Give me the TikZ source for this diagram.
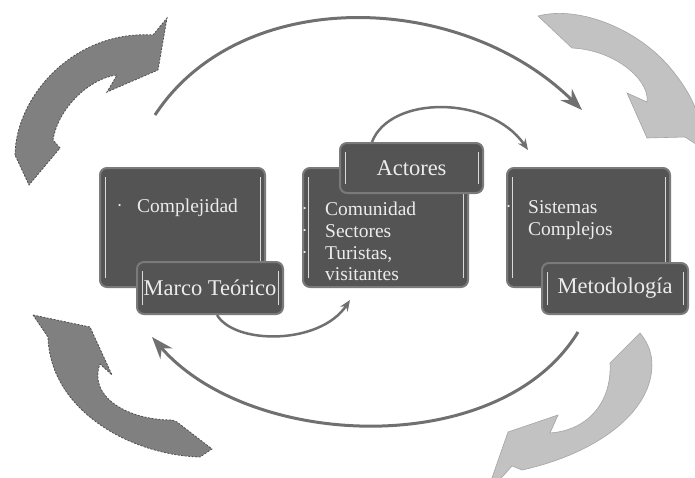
\documentclass[tikz,border=0pt]{standalone}
\usepackage{fontspec}
\setmainfont{Liberation Serif}
\usepackage{tikz}
\usetikzlibrary{arrows.meta}
\definecolor{boxgray}{RGB}{84,84,84}
\definecolor{edgegray}{RGB}{122,122,122}
\definecolor{arcgray}{RGB}{112,112,112}
\definecolor{darkfill}{RGB}{128,128,128}
\definecolor{darkedge}{RGB}{78,78,78}
\definecolor{lightfill}{RGB}{194,194,194}
\definecolor{lightedge}{RGB}{165,165,165}
\definecolor{txtgray}{RGB}{236,236,236}
\newcommand{\pnt}{\raisebox{0.35ex}{\fontsize{9}{9}\selectfont\textbullet}}

\begin{document}
\begin{tikzpicture}[x=1pt,y=-1pt,
  bigarc/.style={arcgray,line width=3pt,-{Stealth[length=22pt,width=16pt]}},
  smallarc/.style={arcgray,line width=2.5pt,-{Stealth[length=11pt,width=9pt]}},
  darkarrow/.style={fill=darkfill,draw=darkedge,dash pattern=on 2pt off 1.5pt,line width=0.8pt},
  lightarrow/.style={fill=lightfill,draw=lightedge,line width=0.6pt},
  mainbox/.style={draw=edgegray,line width=2pt,fill=boxgray,rounded corners=7pt,inner sep=0pt,
    path picture={
      \draw[white!70!gray,line width=1pt]
        ([xshift=5pt,yshift=-9pt]path picture bounding box.north west) --
        ([xshift=5pt,yshift=9pt]path picture bounding box.south west);
      \draw[white!70!gray,line width=1pt]
        ([xshift=-5pt,yshift=-9pt]path picture bounding box.north east) --
        ([xshift=-5pt,yshift=9pt]path picture bounding box.south east);}},
  lblbox/.style={mainbox,text=txtgray,font=\fontsize{22.5}{26}\selectfont},
  itemtext/.style={anchor=base west,text=txtgray,font=\fontsize{19.5}{22}\selectfont,inner sep=0pt}]

\useasboundingbox (0,0) rectangle (695,477);
\clip (0,0) rectangle (695,477);

% block arrows round the cycle
\draw[darkarrow] (15,155) .. controls (16,95) and (75,30) .. (153,35) -- (167,18) -- (158,70)
  -- (107,92) -- (117,75) .. controls (90,78) and (58,108) .. (53,140) -- (60,148) -- (29,185) -- cycle;
\draw[darkarrow] (33,315) -- (90,327) -- (112,375) -- (100,364) .. controls (88,395) and (125,420) .. (172,420)
  -- (177,422) -- (212,449) -- (200,457) .. controls (130,455) and (50,410) .. (48,337) -- cycle;
\draw[lightarrow] (538,16) .. controls (580,5) and (640,30) .. (672,70) .. controls (690,92) and (697,110) .. (698,118)
  -- (715,112) -- (708,152) -- (685,137) -- (647,138) -- (627,93) -- (647,102)
  .. controls (650,80) and (615,50) .. (572,48) -- cycle;
\draw[lightarrow] (640,333) -- (610,363) .. controls (612,400) and (590,430) .. (550,433) -- (558,415) -- (508,432)
  -- (486,495) -- (512,466) -- (522,470) .. controls (590,455) and (640,420) .. (650,380)
  .. controls (655,360) and (650,345) .. (640,333) -- cycle;

% boxes
\node[mainbox,minimum width=165pt,minimum height=119pt] (mt) at (182.5,227.5) {};
\node[lblbox,minimum width=146pt,minimum height=52pt] (mtl) at (210,288) {Marco Teórico};
\node[mainbox,minimum width=165pt,minimum height=119pt] (act) at (385.5,227.5) {};
\node[lblbox,minimum width=143pt,minimum height=50pt] (actl) at (411.5,168) {Actores};
\node[mainbox,minimum width=163pt,minimum height=119pt] (met) at (588.5,227.5) {};
\node[lblbox,minimum width=146pt,minimum height=51pt] (metl) at (615,288.5) {Metodología};

% thin arcs
\coordinate (topS) at (155,115);
\coordinate (topE) at (582,110);
\coordinate (actE) at (528,150);
\coordinate (mtE) at (350,300);
\coordinate (botS) at (578,332);
\coordinate (botE) at (152,337);
\draw[bigarc] (topS) .. controls (240,-15) and (460,-10) .. (topE);
\draw[bigarc] (botS) .. controls (500,460) and (250,450) .. (botE);
\draw[smallarc] ([xshift=33pt]actl.north west) .. controls (390,95) and (490,95) .. (actE);
\draw[smallarc] ([xshift=81pt]mtl.south west) .. controls (235,345) and (320,345) .. (mtE);

% items
\node[itemtext] (mtb) at (118,212) {\pnt};
\node[itemtext] (mt1) at (137,212) {Complejidad};
\foreach \y/\t in {215/Comunidad,237/Sectores,259/{Turistas,}}
  \node[itemtext] (ab\y) at (303,\y) {\pnt};
\foreach \y/\t in {215/Comunidad,237/Sectores,259/{Turistas,},280/visitantes}
  \node[itemtext] (ai\y) at (325,\y) {\t};
\node[itemtext] (meb) at (507,213) {\pnt};
\node[itemtext] (me1) at (528,213) {Sistemas};
\node[itemtext] (me2) at (528,235) {Complejos};
\end{tikzpicture}
\end{document}
